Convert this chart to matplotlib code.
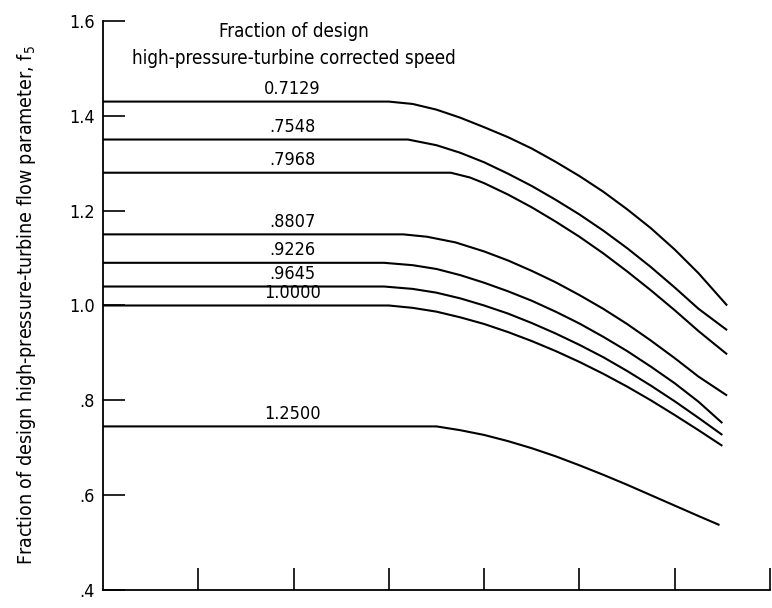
import matplotlib
matplotlib.use("Agg")
import matplotlib.pyplot as plt

plt.rcParams['font.family'] = ['DejaVu Sans']
plt.rcParams['font.stretch'] = 'condensed'

# Curve labels (fraction of design HPT corrected speed)
speed_labels = ["0.7129", ".7548", ".7968", ".8807", ".9226", ".9645", "1.0000", "1.2500"]

# x positions and flow parameter values
x_07129 = [0.0, 3.0, 3.25, 3.5, 3.75, 4.0, 4.25, 4.5, 4.75, 5.0, 5.25, 5.5, 5.75, 6.0, 6.25, 6.55]
y_07129 = [1.43, 1.43, 1.425, 1.413, 1.396, 1.376, 1.355, 1.331, 1.303, 1.273, 1.24, 1.203, 1.163, 1.118, 1.068, 1.0]

x_07548 = [0.0, 3.2, 3.5, 3.75, 4.0, 4.25, 4.5, 4.75, 5.0, 5.25, 5.5, 5.75, 6.0, 6.25, 6.55]
y_07548 = [1.35, 1.35, 1.338, 1.322, 1.302, 1.278, 1.252, 1.223, 1.192, 1.158, 1.121, 1.081, 1.038, 0.993, 0.948]

x_07968 = [0.0, 3.65, 3.85, 4.0, 4.25, 4.5, 4.75, 5.0, 5.25, 5.5, 5.75, 6.0, 6.25, 6.55]
y_07968 = [1.28, 1.28, 1.27, 1.258, 1.234, 1.207, 1.177, 1.145, 1.11, 1.072, 1.032, 0.99, 0.946, 0.897]

x_08807 = [0.0, 3.15, 3.4, 3.7, 4.0, 4.25, 4.5, 4.75, 5.0, 5.25, 5.5, 5.75, 6.0, 6.25, 6.55]
y_08807 = [1.15, 1.15, 1.145, 1.133, 1.114, 1.095, 1.073, 1.049, 1.022, 0.993, 0.961, 0.926, 0.889, 0.85, 0.81]

x_09226 = [0.0, 2.95, 3.25, 3.5, 3.75, 4.0, 4.25, 4.5, 4.75, 5.0, 5.25, 5.5, 5.75, 6.0, 6.25, 6.5]
y_09226 = [1.09, 1.09, 1.085, 1.077, 1.064, 1.048, 1.03, 1.01, 0.987, 0.962, 0.934, 0.904, 0.871, 0.836, 0.797, 0.752]

x_09645 = [0.0, 2.95, 3.25, 3.5, 3.75, 4.0, 4.25, 4.5, 4.75, 5.0, 5.25, 5.5, 5.75, 6.0, 6.25, 6.5]
y_09645 = [1.04, 1.04, 1.035, 1.027, 1.015, 1.0, 0.983, 0.963, 0.941, 0.917, 0.891, 0.862, 0.831, 0.798, 0.763, 0.727]

x_10000 = [0.0, 3.0, 3.25, 3.5, 3.75, 4.0, 4.25, 4.5, 4.75, 5.0, 5.25, 5.5, 5.75, 6.0, 6.25, 6.5]
y_10000 = [1.0, 1.0, 0.995, 0.987, 0.975, 0.961, 0.944, 0.925, 0.904, 0.881, 0.856, 0.829, 0.8, 0.769, 0.737, 0.704]

x_12500 = [0.0, 3.5, 3.75, 4.0, 4.25, 4.5, 4.75, 5.0, 5.25, 5.5, 5.75, 6.0, 6.25, 6.47]
y_12500 = [0.745, 0.745, 0.737, 0.727, 0.714, 0.699, 0.682, 0.663, 0.643, 0.622, 0.6, 0.578, 0.556, 0.537]

curves_x = [x_07129, x_07548, x_07968, x_08807, x_09226, x_09645, x_10000, x_12500]
curves_y = [y_07129, y_07548, y_07968, y_08807, y_09226, y_09645, y_10000, y_12500]

yticks = [0.4, 0.6, 0.8, 1.0, 1.2, 1.4, 1.6]
ytick_labels = [".4", ".6", ".8", "1.0", "1.2", "1.4", "1.6"]
xticks = [1, 2, 3, 4, 5, 6, 7]

fig = plt.figure(figsize=(7.72, 6.08), dpi=100)
ax = fig.add_axes([0.1334, 0.0296, 0.8640, 0.9359])

for xs, ys in zip(curves_x, curves_y):
    ax.plot(xs, ys, color='black', lw=1.5, solid_capstyle='butt', solid_joinstyle='round')

label_x = 1.99
for lab, ys in zip(speed_labels, curves_y):
    ax.text(label_x, ys[0] + 0.007, lab, ha='center', va='bottom', fontsize=13)

ax.text(2.0, 1.55, "Fraction of design\nhigh-pressure-turbine corrected speed",
        ha='center', va='center', fontsize=13.5, linespacing=1.55)

ax.set_xlim(0, 7)
ax.set_ylim(0.4, 1.6)
ax.set_yticks(yticks)
ax.set_yticklabels(ytick_labels)
ax.set_xticks(xticks)
ax.set_xticklabels([])
ax.tick_params(axis='both', direction='in', length=16, width=1.2, labelsize=13, pad=6)
for s in ['top', 'right']:
    ax.spines[s].set_visible(False)
for s in ['left', 'bottom']:
    ax.spines[s].set_linewidth(1.3)

ax.set_ylabel("Fraction of design high-pressure-turbine flow parameter, f$_5$",
              fontsize=14, labelpad=22)

fig.savefig("out.png", dpi=100)
